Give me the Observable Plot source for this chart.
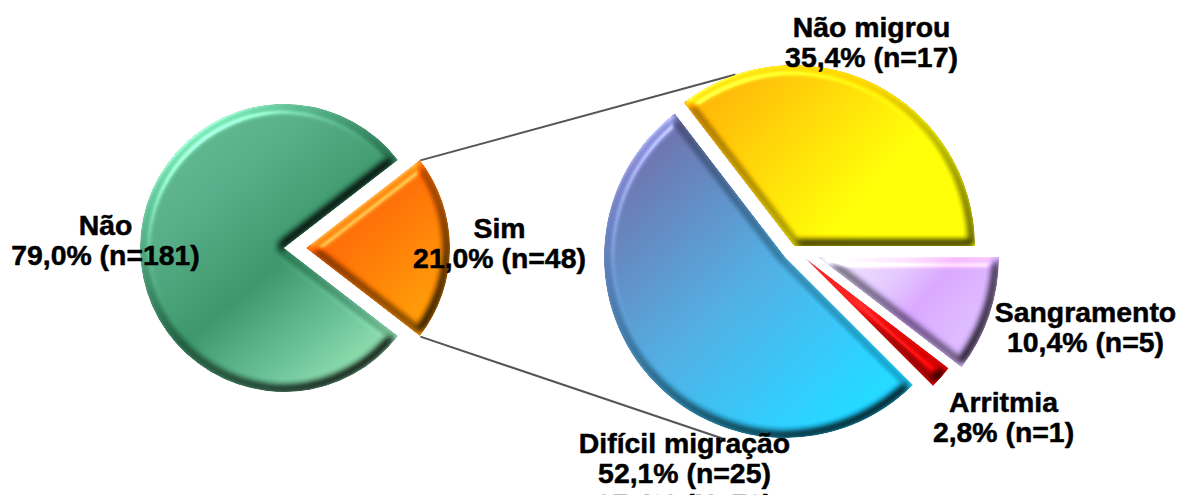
<!DOCTYPE html>
<html>
<head>
<meta charset="utf-8">
<script src="https://cdn.jsdelivr.net/npm/d3@7"></script>
<script src="https://cdn.jsdelivr.net/npm/@observablehq/plot@0.6"></script>
<style>
  html, body { margin: 0; padding: 0; background: #fff; }
  svg { display: block; }
</style>
</head>
<body>
<div id="chart"></div>
<script>
// Complications: overall split, then the breakdown of the "Sim" group
const mainCategories = ["Sim", "Não"];
const mainCounts = [48, 181];
const mainPercents = ["21,0%", "79,0%"];

const detailCategories = ["Não migrou", "Sangramento", "Arritmia", "Difícil migração"];
const detailCounts = [17, 5, 1, 25];
const detailPercents = ["35,4%", "10,4%", "2,8%", "52,1%"];

const leftPie = {r: 144};
const rightPie = {r: 181};
const detailApex = [[794, 246], [818, 257], [805, 258], [785, 257]];
const mainApex = [[306, 248], [284, 248]];

const gradients = {
  "Não": {x1: 170, y1: 110, x2: 400, y2: 390, stops: [[0, "#5cb48c"], [0.25, "#50a680"], [0.52, "#358f63"], [0.75, "#66bc92"], [1, "#a8eeba"]]},
  "Sim": {x1: 345, y1: 205, x2: 440, y2: 310, stops: [[0, "#ff5c00"], [1, "#ff9800"]]},
  "Não migrou": {x1: 700, y1: 90, x2: 860, y2: 235, stops: [[0, "#ffaa00"], [1, "#ffff00"]]},
  "Sangramento": {x1: 840, y1: 255, x2: 950, y2: 345, stops: [[0, "#e6def8"], [0.4, "#dcc0fc"], [0.65, "#d2a0fe"], [1, "#d6b2fc"]]},
  "Arritmia": {x1: 810, y1: 260, x2: 940, y2: 380, stops: [[0, "#ff2020"], [1, "#ee0000"]]},
  "Difícil migração": {x1: 640, y1: 160, x2: 860, y2: 400, stops: [[0, "#666ca6"], [0.5, "#4aa6da"], [1, "#1cd0ff"]]}
};

const labels = [
  {text: `${mainCategories[1]}\n${mainPercents[1]} (n=${mainCounts[1]})`, x: 105, y: 240},
  {text: `${mainCategories[0]}\n${mainPercents[0]} (n=${mainCounts[0]})`, x: 499, y: 243},
  {text: `${detailCategories[0]}\n${detailPercents[0]} (n=${detailCounts[0]})`, x: 871, y: 42},
  {text: `${detailCategories[1]}\n${detailPercents[1]} (n=${detailCounts[1]})`, x: 1085, y: 327},
  {text: `${detailCategories[2]}\n${detailPercents[2]} (n=${detailCounts[2]})`, x: 1003, y: 417},
  {text: `${detailCategories[3]}\n${detailPercents[3]} (n=${detailCounts[3]})\n37,4% (N=70)`, x: 684, y: 473}
];

// d3.pie angles run clockwise from north; each pie starts at the given angle
function sliceList(names, counts, apexes, startDeg, r) {
  const arcs = d3.pie().sort(null).startAngle(startDeg * Math.PI / 180)
    .endAngle((startDeg + 360) * Math.PI / 180)(counts);
  return arcs.map((a, i) => ({name: names[i], cx: apexes[i][0], cy: apexes[i][1], r, arc: a}));
}

const mainSlices = sliceList(mainCategories, mainCounts, mainApex, 90 - 37.73, leftPie.r);
const detailSlices = sliceList(detailCategories, detailCounts, detailApex, -37.5, rightPie.r);

// Corner of a slice at a given d3 angle
const corner = (s, angle) => ({
  x: s.cx + s.r * Math.sin(angle),
  y: s.cy - s.r * Math.cos(angle)
});

const sim = mainSlices[0];
const connectors = [
  {from: corner(sim, sim.arc.startAngle), to: {x: 735, y: 74}},
  {from: corner(sim, sim.arc.endAngle), to: {x: 722, y: 438}}
];

// Bevelled, gradient-filled wedges positioned through the plot's x and y scales
function wedges(slices) {
  return (index, scales) => {
    const root = d3.create("svg:g");
    const defs = root.append("defs");
    const arc = d3.arc();
    slices.forEach((s, i) => {
      const g = gradients[s.name];
      const id = "grad-" + s.name.replace(/[^a-z]/gi, "") + i;
      const px = scales.x(s.cx), py = scales.y(s.cy);
      // the wedge is translated, so the gradient is shifted back into plot coordinates
      const lg = defs.append("linearGradient").attr("id", id).attr("gradientUnits", "userSpaceOnUse")
        .attr("x1", scales.x(g.x1)).attr("y1", scales.y(g.y1))
        .attr("x2", scales.x(g.x2)).attr("y2", scales.y(g.y2))
        .attr("gradientTransform", `translate(${-px},${-py})`);
      g.stops.forEach(([o, c]) => lg.append("stop").attr("offset", o).attr("stop-color", c));
      root.append("path")
        .attr("d", arc({innerRadius: 0, outerRadius: s.r, startAngle: s.arc.startAngle, endAngle: s.arc.endAngle}))
        .attr("transform", `translate(${px},${py})`)
        .attr("fill", `url(#${id})`)
        .attr("filter", "url(#bevel)");
    });
    return root.node();
  };
}

// Shared bevel: a soft inset ridge, dimmer on the far side and light on the near side
function bevelDefs() {
  const defs = d3.create("svg:defs");
  const f = defs.append("filter").attr("id", "bevel")
    .attr("x", "-10%").attr("y", "-10%").attr("width", "120%").attr("height", "120%")
    .attr("color-interpolation-filters", "sRGB");
  f.append("feMorphology").attr("in", "SourceAlpha").attr("operator", "erode").attr("radius", 3).attr("result", "core");
  f.append("feGaussianBlur").attr("in", "core").attr("stdDeviation", 3.6).attr("result", "h");
  const dl = f.append("feDiffuseLighting").attr("in", "h").attr("surfaceScale", 4.2)
    .attr("diffuseConstant", 1).attr("lighting-color", "#fff").attr("result", "diff");
  dl.append("feDistantLight").attr("azimuth", 235).attr("elevation", 55);
  f.append("feComposite").attr("in", "SourceGraphic").attr("in2", "diff")
    .attr("operator", "arithmetic").attr("k1", 1.22).attr("k2", 0).attr("k3", 0).attr("k4", 0).attr("result", "lit");
  const sl = f.append("feSpecularLighting").attr("in", "h").attr("surfaceScale", 4.2)
    .attr("specularConstant", 0.3).attr("specularExponent", 24).attr("lighting-color", "#fff").attr("result", "spec");
  sl.append("feDistantLight").attr("azimuth", 235).attr("elevation", 42);
  f.append("feComposite").attr("in", "lit").attr("in2", "spec")
    .attr("operator", "arithmetic").attr("k1", 0).attr("k2", 1).attr("k3", 1).attr("k4", 0).attr("result", "all");
  f.append("feComposite").attr("in", "all").attr("in2", "SourceAlpha").attr("operator", "in");
  return () => defs.node();
}

const chart = Plot.plot({
  width: 1187,
  height: 495,
  margin: 0,
  x: {domain: [0, 1187], range: [0, 1187], axis: null},
  y: {domain: [0, 495], range: [0, 495], axis: null},
  style: {background: "#fff", overflow: "hidden"},
  marks: [
    bevelDefs(),
    Plot.link(connectors, {
      x1: d => d.from.x, y1: d => d.from.y, x2: d => d.to.x, y2: d => d.to.y,
      stroke: "#555", strokeWidth: 2
    }),
    wedges(mainSlices),
    wedges(detailSlices),
    Plot.text(labels, {
      x: "x", y: "y", text: "text",
      fontFamily: "Liberation Sans", fontWeight: "bold", fontSize: 28.4,
      lineHeight: 1.07, fill: "#000", textAnchor: "middle", lineAnchor: "middle",
      stroke: "#000", strokeWidth: 0.5
    })
  ]
});
document.getElementById("chart").append(chart);
</script>
</body>
</html>
